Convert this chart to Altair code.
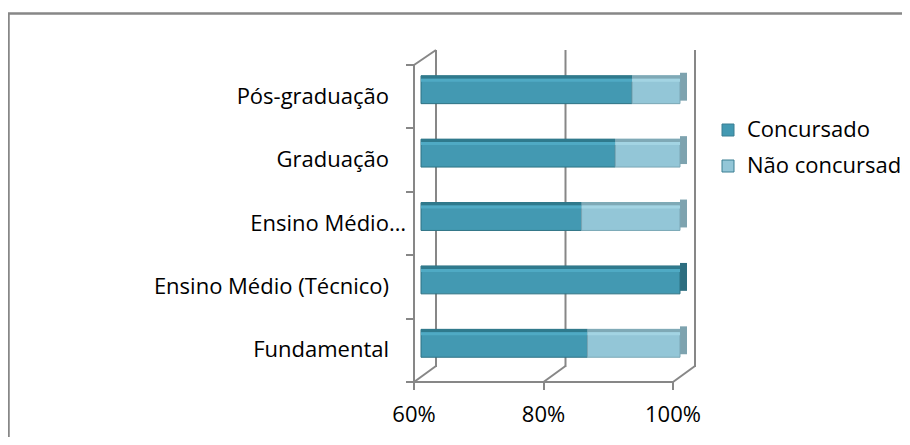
import altair as alt
import pandas as pd

categories = ["Pós-graduação", "Graduação", "Ensino Médio…", "Ensino Médio (Técnico)", "Fundamental"]
concursado = [92.6, 90.0, 84.8, 100.0, 85.7]
nao_concursado = [7.4, 10.0, 15.2, 0.0, 14.3]
series = ["Concursado", "Não concursado"]
colors = ["#4399B2", "#93C6D7"]
x_ticks = [60, 80, 100]

rows = []
for c, a, b in zip(categories, concursado, nao_concursado):
    rows.append({"cat": c, "serie": series[0], "v": a, "ord": 0})
    rows.append({"cat": c, "serie": series[1], "v": b, "ord": 1})
df = pd.DataFrame(rows)
caps = pd.DataFrame({"cat": categories, "nao": nao_concursado, "total": [a + b for a, b in zip(concursado, nao_concursado)]})
grid = pd.DataFrame({"t": x_ticks})
one = pd.DataFrame({"a": [0]})

FONT = "Open Sans"
GRAY = "#878787"
W, H = 259, 317

xscale = alt.Scale(domain=[60, 100], clamp=True, nice=False, zero=False)
yscale = alt.Scale(paddingInner=0, paddingOuter=0)

x_axis = alt.Axis(
    title=None,
    values=x_ticks,
    labelExpr="datum.value + '%'",
    grid=False,
    labelFlush=False,
    domainColor=GRAY,
    domainWidth=2,
    tickColor=GRAY,
    tickWidth=2,
    tickSize=8,
    labelPadding=15,
    labelFont=FONT,
    labelFontSize=22,
    labelColor="#000000",
    translate=-7,
    offset=14,
)

y_axis = alt.Axis(
    title=None,
    tickBand="extent",
    domainColor=GRAY,
    domainWidth=2,
    tickColor=GRAY,
    tickWidth=2,
    tickSize=8,
    labelPadding={"condition": {"test": "indexof(datum.label, '…') >= 0", "value": 0}, "value": 17},
    labelFont=FONT,
    labelFontSize=22,
    labelColor="#000000",
    labelLimit=400,
    translate=7,
    offset=14,
)

gridlines = alt.Chart(grid).mark_rule(color=GRAY, strokeWidth=2, xOffset=15).encode(
    x=alt.X("t:Q", scale=xscale, axis=x_axis),
    y=alt.value(-8),
    y2=alt.value(309),
)

diagonals = alt.Chart(grid).mark_rule(color=GRAY, strokeWidth=2, xOffset=-7, x2Offset=15).encode(
    x=alt.X("t:Q", scale=xscale, axis=x_axis),
    x2="t:Q",
    y=alt.value(324),
    y2=alt.value(308),
)

top_diag = alt.Chart(one).mark_rule(color=GRAY, strokeWidth=2, xOffset=-7, x2Offset=15).encode(
    x=alt.X(datum=60, scale=xscale, axis=x_axis),
    x2=alt.X2(datum=60),
    y=alt.value(7),
    y2=alt.value(-8),
)

end_caps = alt.Chart(caps).mark_bar(height={"band": 0.44}, yOffset=-3, x2Offset=7).encode(
    y=alt.Y("cat:N", sort=categories, scale=yscale, axis=y_axis),
    x=alt.X("total:Q", scale=xscale, axis=x_axis),
    x2=alt.X2("total:Q"),
    fill=alt.condition("datum.nao > 0", alt.value("#7EA3AF"), alt.value("#2D6E80")),
)

bars = alt.Chart(df).transform_filter("datum.v > 0").mark_bar(
    height={"band": 0.44}, strokeWidth=1
).encode(
    y=alt.Y("cat:N", sort=categories, scale=yscale, axis=y_axis),
    x=alt.X("v:Q", stack="zero", scale=xscale, axis=x_axis),
    color=alt.Color(
        "serie:N",
        scale=alt.Scale(domain=series, range=colors),
        legend=alt.Legend(
            title=None,
            orient="none",
            legendX=296,
            legendY=61,
            symbolType="square",
            symbolSize=144,
            symbolStrokeColor="#3B7F92",
            symbolStrokeWidth=1,
            labelFont=FONT,
            labelFontSize=22,
            labelColor="#000000",
            labelOffset=8,
            rowPadding=14,
            padding=0,
            labelLimit=400,
        ),
    ),
    stroke=alt.condition("datum.ord == 0", alt.value("#2E7384"), alt.value("#7AA7B5")),
    order=alt.Order("ord:Q"),
)

top_strip = alt.Chart(df).transform_filter("datum.v > 0").mark_bar(
    height=3, yOffset=-12.5
).encode(
    y=alt.Y("cat:N", sort=categories, scale=yscale, axis=y_axis),
    x=alt.X("v:Q", stack="zero", scale=xscale, axis=x_axis),
    fill=alt.condition("datum.ord == 0", alt.value("#2F7A8D"), alt.value("#7FA9B6")),
    order=alt.Order("ord:Q"),
)

highlight = alt.Chart(df).transform_filter("datum.v > 0").mark_bar(
    height=3, yOffset=-9.5
).encode(
    y=alt.Y("cat:N", sort=categories, scale=yscale, axis=y_axis),
    x=alt.X("v:Q", stack="zero", scale=xscale, axis=x_axis),
    fill=alt.condition("datum.ord == 0", alt.value("#4FAAC4"), alt.value("#A3D4E3")),
    order=alt.Order("ord:Q"),
)

border = alt.Chart(one).mark_rect(fillOpacity=0, stroke=GRAY, strokeWidth=2.5).encode(
    x=alt.value(-412.5),
    x2=alt.value(700),
    y=alt.value(-44.5),
    y2=alt.value(500),
)

chart = alt.layer(gridlines, diagonals, top_diag, end_caps, bars, top_strip, highlight, border).properties(
    width=W,
    height=H,
    autosize=alt.AutoSizeParams(type="none"),
    padding={"left": 413, "top": 50, "right": 222, "bottom": 62},
).configure_view(stroke=None)

chart.save("out.html", embed_options={"renderer": "svg", "actions": False})
